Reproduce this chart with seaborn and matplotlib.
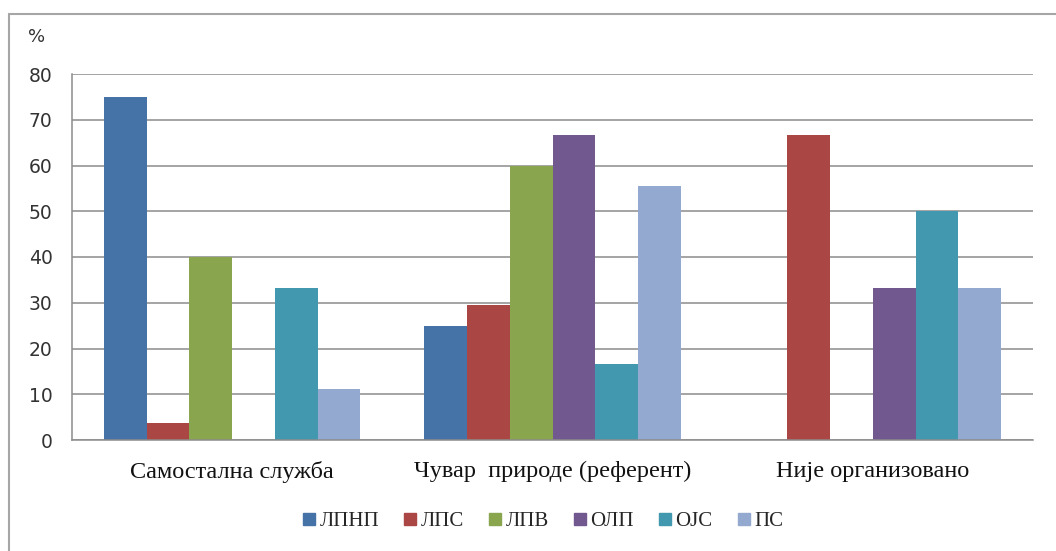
import pandas as pd
import matplotlib
matplotlib.use("Agg")
import matplotlib.pyplot as plt
from matplotlib.lines import Line2D
import seaborn as sns

# --- data ---
categories = ["Самостална служба", "Чувар  природе (референт)", "Није организовано"]
series = ["ЛПНП", "ЛПС", "ЛПВ", "ОЛП", "ОЈС", "ПС"]
lpnp = [75.0, 25.0, 0.0]
lps = [3.7, 29.6, 66.7]
lpv = [40.0, 60.0, 0.0]
olp = [0.0, 66.7, 33.3]
ojs = [33.3, 16.7, 50.0]
ps = [11.1, 55.6, 33.3]
y_ticks = [0, 10, 20, 30, 40, 50, 60, 70, 80]

colors = ["#4572A7", "#AA4643", "#89A54E", "#71588F", "#4198AF", "#93A9CF"]
grid_col = "#8C8C8C"

rows = []
for name, vals in zip(series, [lpnp, lps, lpv, olp, ojs, ps]):
    for cat, v in zip(categories, vals):
        rows.append({"Категорија": cat, "Серија": name, "Вредност": v})
df = pd.DataFrame(rows)

sns.set_style("white")
plt.rcParams["font.family"] = ["DejaVu Sans"]

fig = plt.figure(figsize=(10.56, 5.51), dpi=100)
ax = fig.add_axes([72 / 1056, 1 - 440 / 551, (1033 - 72) / 1056, (440 - 74) / 551])

sns.barplot(data=df, x="Категорија", y="Вредност", hue="Серија",
            order=categories, hue_order=series, palette=colors,
            width=0.8, saturation=1, linewidth=0, ax=ax, legend=True)

ax.set_xlim(-0.5, 2.5)
ax.set_ylim(0, 80)
ax.set_yticks(y_ticks)
ax.set_yticklabels([str(t) for t in y_ticks], fontsize=13.5, color="#333333")
ax.set_xlabel("")
ax.set_ylabel("")
ax.set_axisbelow(True)
ax.yaxis.grid(True, color=grid_col, linewidth=1.1)
ax.xaxis.grid(False)

ax.set_xticks([0, 1, 2])
ax.set_xticklabels(categories, fontsize=17.5, family="Liberation Serif", color="#111111")
ax.set_xticks([-0.5, 0.5, 1.5, 2.5], minor=True)
ax.tick_params(axis="x", which="major", length=0, pad=15)
ax.tick_params(axis="x", which="minor", length=7, width=1.1, color=grid_col, direction="out")
ax.tick_params(axis="y", length=8, width=1.1, color=grid_col, direction="out", pad=6)

for side in ["top", "right"]:
    ax.spines[side].set_visible(False)
for side in ["left", "bottom"]:
    ax.spines[side].set_color(grid_col)
    ax.spines[side].set_linewidth(1.1)

# legend below the plot, square markers
ax.get_legend().remove()
handles = [Line2D([], [], marker="s", linestyle="", markersize=9,
                  markerfacecolor=c, markeredgecolor=c) for c in colors]
fig.legend(handles, series, loc="center", bbox_to_anchor=(542 / 1056, 1 - 521 / 551),
           ncol=6, frameon=False, handlelength=0.8, handletextpad=0.1,
           columnspacing=1.1, prop={"family": "Liberation Serif", "size": 15})

# percent sign above the y axis
fig.text(37 / 1056, 1 - 37 / 551, "%", fontsize=13, ha="center", va="center", color="#333333")

# outer chart frame (top and left edges are visible in the picture)
fig.add_artist(Line2D([9 / 1056, 9 / 1056], [0, 1 - 14 / 551], transform=fig.transFigure,
                      color="#A6A6A6", linewidth=1.5))
fig.add_artist(Line2D([9 / 1056, 1], [1 - 14 / 551, 1 - 14 / 551], transform=fig.transFigure,
                      color="#A6A6A6", linewidth=1.5))

fig.savefig("out.png", dpi=100)
